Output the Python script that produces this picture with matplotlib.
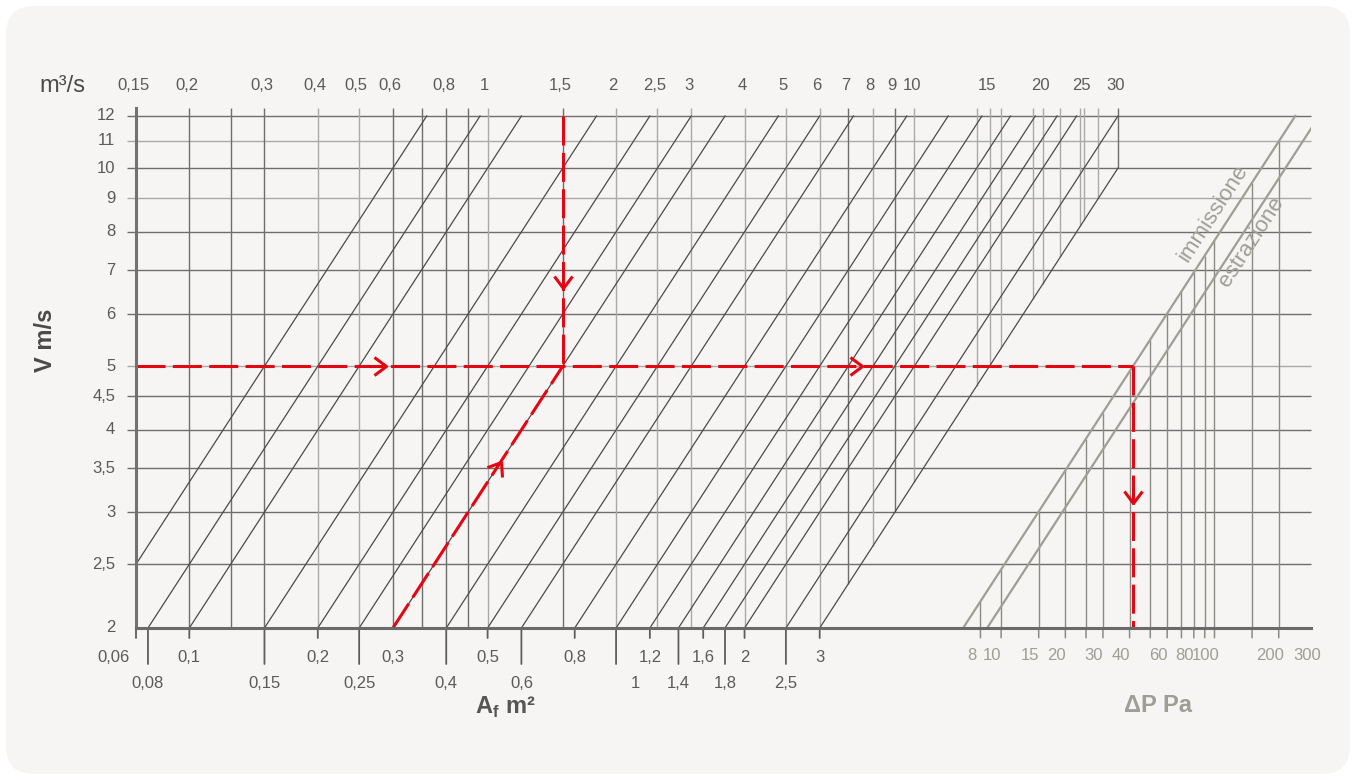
import numpy as np
import matplotlib.pyplot as plt
from matplotlib.path import Path
from matplotlib.markers import MarkerStyle
from matplotlib.transforms import Affine2D
from matplotlib.patches import FancyBboxPatch
from matplotlib.ticker import NullLocator

plt.rcParams['font.family'] = ['Liberation Sans', 'DejaVu Sans']
plt.rcParams['mathtext.fontset'] = 'custom'
plt.rcParams['mathtext.rm'] = 'Liberation Sans'
plt.rcParams['mathtext.bf'] = 'Liberation Sans:bold'

# velocity V (m/s), horizontal grid
v_ticks = [2, 2.5, 3, 3.5, 4, 4.5, 5, 6, 7, 8, 9, 10, 11, 12]
v_light = [5, 9, 11]

# flow rate (m3/s), vertical grid and top labels
q_lines = [0.2, 0.25, 0.3, 0.4, 0.5, 0.6, 0.7, 0.8, 0.9, 1, 1.5, 2, 2.5, 3, 4, 5,
           6, 7, 8, 9, 10, 14, 15, 16, 19, 20, 22, 24.5, 25, 27, 30]
q_light = [0.4, 0.5, 1, 2, 2.5, 3, 4, 5, 6, 8, 10, 14, 15, 16, 19, 20, 22, 24.5,
           25, 27]
q_labels = [0.15, 0.2, 0.3, 0.4, 0.5, 0.6, 0.8, 1, 1.5, 2, 2.5, 3, 4, 5, 6, 7, 8,
            9, 10, 15, 20, 25, 30]

# free area Af (m2), diagonals
af_values = [0.06, 0.08, 0.1, 0.15, 0.2, 0.25, 0.3, 0.4, 0.5, 0.6, 0.8, 1, 1.2,
             1.4, 1.6, 1.8, 2, 2.5, 3]
af_row1 = [0.06, 0.1, 0.2, 0.3, 0.5, 0.8, 1.2, 1.6, 2, 3]
af_row2 = [0.08, 0.15, 0.25, 0.4, 0.6, 1, 1.4, 1.8, 2.5]
af_nudge = {0.06: -23, 1: 19}   # label shifts in px

# pressure drop (Pa)
dp_lines = [8, 10, 15, 20, 25, 30, 40, 50, 60, 70, 80, 90, 100, 150, 200]
dp_labels = [8, 10, 15, 20, 30, 40, 60, 80, 100, 200, 300]
dp_coef = {'immissione': 1.66, 'estrazione': 2.15}   # dP = k * V^2

# worked example
ex_v = 5
ex_af = 0.3

Q_MIN, Q_EDGE, V_MIN, V_TOP = 0.15, 85, 2, 12.34
V_MAX = v_ticks[-1]
Q_MAX = q_labels[-1]
A_MAX = af_values[-1]

DARK = '#6e6e6e'
LIGHT = '#a9a9a9'
DIAG = '#4b4b4b'
WARM = '#9e9d96'
RED = '#e30613'
TXT = '#5a5a5a'


def dp_x(dp):
    # pressure drop drawn on the same log axis as the flow rate
    return 5.05 * np.sqrt(dp)


def fmt(v):
    return ('%g' % v).replace('.', ',')


fig = plt.figure(figsize=(13.56, 7.8), dpi=100)
fig.patch.set_facecolor('white')
fig.patches.append(FancyBboxPatch((0.06, 0.06), 13.44, 7.68,
                                  boxstyle='round,pad=0,rounding_size=0.28',
                                  transform=fig.dpi_scale_trans,
                                  facecolor='#f6f5f3', edgecolor='none', zorder=-10))

ax = fig.add_axes([136 / 1356, 152 / 780, 1175 / 1356, 520 / 780])
ax.set_facecolor('none')
ax.set_xscale('log')
ax.set_yscale('log')
ax.set_xlim(Q_MIN, Q_EDGE)
ax.set_ylim(V_MIN, V_TOP)
for a in (ax.xaxis, ax.yaxis):
    a.set_major_locator(NullLocator())
    a.set_minor_locator(NullLocator())
ax.spines['top'].set_visible(False)
ax.spines['right'].set_visible(False)
ax.spines['left'].set_color('#727272')
ax.spines['bottom'].set_color('#6a6a6a')
ax.spines['left'].set_linewidth(2.2)
ax.spines['bottom'].set_linewidth(2.2)
for s in ax.spines.values():
    s.set_zorder(6)

# horizontal grid
for v in v_ticks[1:]:
    ax.hlines(v, Q_MIN * 0.953, Q_EDGE, color=LIGHT if v in v_light else DARK,
              lw=1.0, clip_on=False, zorder=1)
    ax.annotate(fmt(v), xy=(0, v), xycoords=('axes fraction', 'data'),
                xytext=(-15, 0), textcoords='offset points', ha='right',
                va='center', fontsize=12, color=TXT)
ax.annotate('2', xy=(0, V_MIN), xycoords=('axes fraction', 'data'),
            xytext=(-15, 0), textcoords='offset points', ha='right',
            va='center', fontsize=12, color=TXT)

# vertical flow-rate lines, stopping on the largest area line
for q in q_lines:
    ax.vlines(q, max(V_MIN, q / A_MAX), V_TOP, color=LIGHT if q in q_light else DARK,
              lw=1.0, zorder=1)
for q in q_labels:
    ax.annotate(fmt(q), xy=(q, 1), xycoords=('data', 'axes fraction'),
                xytext=(-2, 16), textcoords='offset points', ha='center',
                va='center', fontsize=12, color=TXT)

# area diagonals
for a in af_values:
    v0 = max(V_MIN, Q_MIN / a)
    v1 = min(V_MAX, Q_MAX / a)
    ax.plot([a * v0, a * v1], [v0, v1], color=DIAG, lw=0.9, zorder=2)

# area scale below the axis
for row, length, ypos in ((af_row1, -10, -30), (af_row2, -36, -55)):
    for a in row:
        x = max(Q_MIN, a * V_MIN)
        if a != ex_af:
            ax.annotate('', xy=(x, 0), xycoords=('data', 'axes fraction'),
                        xytext=(x, length * 0.72), textcoords=('data', 'offset points'),
                        arrowprops=dict(arrowstyle='-', color='#5e5e5e', lw=1.3,
                                        shrinkA=0, shrinkB=0))
        ax.annotate(fmt(a), xy=(x, 0), xycoords=('data', 'axes fraction'),
                    xytext=(af_nudge.get(a, 0) * 0.72, ypos * 0.72),
                    textcoords='offset points', ha='center', va='center',
                    fontsize=12, color=TXT)

# pressure-drop part
k_imm = dp_coef['immissione']
for name, k in dp_coef.items():
    ax.plot([dp_x(k * V_MIN ** 2), dp_x(k * V_MAX ** 2)], [V_MIN, V_MAX],
            color=WARM, lw=1.6, zorder=2)
for dp in dp_lines:
    ax.vlines(dp_x(dp), V_MIN, np.sqrt(dp / k_imm), color='#8b8a85', lw=1.0, zorder=1)
    ax.annotate('', xy=(dp_x(dp), 0), xycoords=('data', 'axes fraction'),
                xytext=(dp_x(dp), -7), textcoords=('data', 'offset points'),
                arrowprops=dict(arrowstyle='-', color='#8b8a85', lw=1.1,
                                shrinkA=0, shrinkB=0))
for dp in dp_labels:
    ax.annotate(fmt(dp), xy=(dp_x(dp), 0), xycoords=('data', 'axes fraction'),
                xytext=(-6.5, -19.5), textcoords='offset points', ha='center',
                va='center', fontsize=12, color=WARM)


def disp_angle(p0, p1):
    d0 = ax.transData.transform(p0)
    d1 = ax.transData.transform(p1)
    return np.degrees(np.arctan2(d1[1] - d0[1], d1[0] - d0[0]))


line_ang = disp_angle((dp_x(k_imm * 4), 2), (dp_x(k_imm * 144), 12))
for name, v_lab, dx in (('immissione', 8.54, -13.7), ('estrazione', 7.72, 10.0)):
    k = dp_coef[name]
    ax.annotate(name, xy=(dp_x(k * v_lab ** 2), v_lab), xytext=(dx, 0),
                textcoords='offset points', ha='center', va='center',
                rotation=line_ang, rotation_mode='anchor', fontsize=16, color=WARM)

# worked example path
q_ex = ex_af * ex_v
x_dp = dp_x(k_imm * ex_v ** 2)
dash = dict(color=RED, lw=2.2, dashes=(9.5, 2.4), zorder=5, solid_capstyle='butt',
            clip_on=False)
ax.plot([Q_MIN, x_dp], [ex_v, ex_v], **dash)
ax.plot([x_dp, x_dp], [ex_v, V_MIN], **dash)
ax.plot([q_ex, q_ex], [V_MAX, ex_v], **dash)
ax.plot([ex_af * V_MIN, q_ex], [V_MIN, ex_v], **dash)

chevron = Path([(-12, 9), (0, 0), (-12, -9)],
               [Path.MOVETO, Path.LINETO, Path.LINETO])
diag_ang = disp_angle((ex_af * V_MIN, V_MIN), (q_ex, ex_v))
arrows = [(0.578, ex_v, 0), (7.53, ex_v, 0), (q_ex, 6.57, -90),
          (x_dp, 3.10, -90), (ex_af * 3.58, 3.58, diag_ang)]
for xa, va_, ang in arrows:
    m = MarkerStyle(chevron, fillstyle='none', transform=Affine2D().rotate_deg(ang))
    ax.plot([xa], [va_], marker=m, ms=17.3, mec=RED, mew=2.2, mfc='none',
            ls='none', zorder=6)

# titles
fig.text(62 / 1356, 1 - 86 / 780, 'm³/s', ha='center', va='center', fontsize=17,
         color='#4a4a4a')
fig.text(45 / 1356, 1 - 340 / 780, 'V m/s', ha='center', va='center', fontsize=17,
         fontweight='bold', rotation=90, color='#4a4a4a')
fig.text(505 / 1356, 1 - 707 / 780, r'$\mathbf{A}_{\mathbf{f}}$ m²', ha='center',
         va='center', fontsize=17, fontweight='bold', color='#555555')
fig.text(1158 / 1356, 1 - 706 / 780, 'ΔP Pa', ha='center', va='center', fontsize=17,
         fontweight='bold', color=WARM)

fig.savefig('out.png', dpi=100)
